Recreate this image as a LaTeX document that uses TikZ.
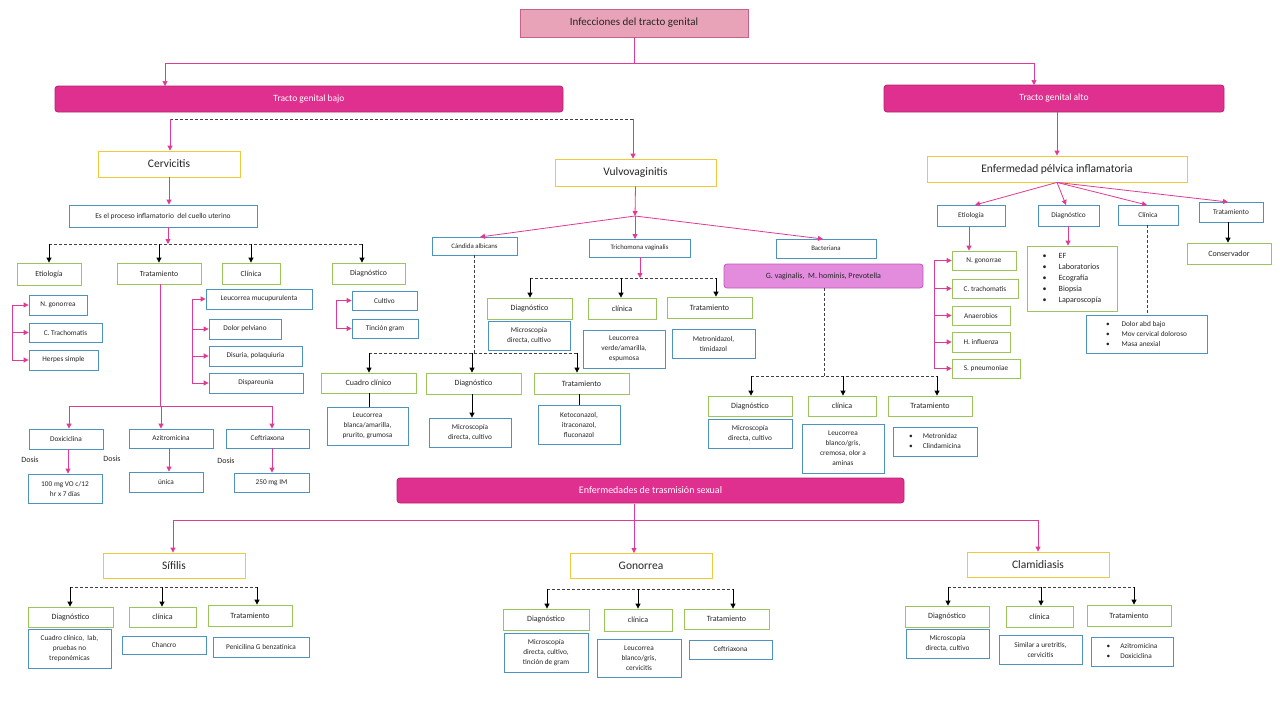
\documentclass[tikz,border=0pt]{standalone}
\usepackage{fontspec}
\setmainfont{Carlito}
\usetikzlibrary{arrows.meta,calc}
\definecolor{mag}{HTML}{E0308F}
\definecolor{magd}{HTML}{B5246F}
\definecolor{pnk}{HTML}{E03A96}
\definecolor{grn}{HTML}{9BC55A}
\definecolor{blu}{HTML}{4C94BE}
\definecolor{ylw}{HTML}{F0C83C}
\definecolor{topf}{HTML}{E9A3B9}
\definecolor{topd}{HTML}{C86088}
\definecolor{gvf}{HTML}{E38BDD}
\definecolor{gvd}{HTML}{C058B8}
\newcommand\mybox[7]{\node[#2, minimum width={(#5)-(#3)}, minimum height={(#6)-(#4)}] (#1) at ({((#3)+(#5))/2},{((#4)+(#6))/2}) {#7};}
\newcommand\bl{\textbullet}
\begin{document}
\begin{tikzpicture}[x=1pt,y=-1pt,
 boxbase/.style={draw, line width=0.8pt, inner sep=1pt, align=center, text=black!85},
 ybox/.style={boxbase, draw=ylw, font=\fontsize{11.5}{13}\selectfont},
 gbox/.style={boxbase, draw=grn, font=\fontsize{8}{9.5}\selectfont},
 gsm/.style={boxbase, draw=grn, font=\fontsize{7.3}{10}\selectfont},
 bbox/.style={boxbase, draw=blu, font=\fontsize{7.3}{10}\selectfont},
 mbox/.style={boxbase, draw=magd, fill=mag, rounded corners=3pt, text=white, font=\fontsize{9.5}{11}\selectfont},
 pka/.style={draw=pnk, line width=0.8pt, -{Triangle[length=5pt,width=5pt]}},
 pkl/.style={draw=pnk, line width=0.8pt},
 bka/.style={draw=black, line width=0.8pt, -{Triangle[length=5pt,width=5pt]}},
 bkl/.style={draw=black, line width=0.8pt},
 dsh/.style={draw=black!75, line width=0.8pt, dash pattern=on 3pt off 2pt},
 lbl/.style={font=\fontsize{8}{9}\selectfont, text=black!85, inner sep=0pt}
]
\useasboundingbox[fill=white] (0,0) rectangle (1280,720);

% ---------- top ----------
\mybox{top}{boxbase, draw=topd, fill=topf, font=\fontsize{11}{13}\selectfont}{520}{9}{748}{37}{Infecciones del tracto genital}
\mybox{tgb}{mbox}{55}{86}{563}{112}{Tracto genital bajo}
\mybox{tga}{mbox}{884}{85}{1224}{112}{Tracto genital alto}
\coordinate (j0) at (634,63);
\coordinate (tgbin) at (165,86);
\coordinate (tgain) at (1034,85);
\draw[pkl, line width=0.6pt] (top.south -| j0) -- (j0);
\draw[pka, line width=0.6pt] (j0) -| (tgbin);
\draw[pka, line width=0.6pt] (j0) -| (tgain);

% ---------- Cervicitis ----------
\mybox{cerv}{ybox}{98}{151}{240}{177}{Cervicitis}
\mybox{vulvo}{ybox}{555}{159}{716}{186}{Vulvovaginitis}
\coordinate (d0a) at (170,119);
\coordinate (d0b) at (633,119);
\draw[dsh] (d0a) -- (d0b);
\draw[pka] (d0a) -- (d0a |- cerv.north);
\draw[pka] (d0b) -- (d0b |- vulvo.north);

\mybox{def}{bbox, font=\fontsize{7.5}{9}\selectfont}{69}{205}{257}{227}{Es el proceso inflamatorio\ \ del cuello uterino}
\draw[pka] (cerv.south) -- (cerv.south |- def.north);
\coordinate (d1) at (168,244);
\coordinate (d1L) at (49,244);
\coordinate (d1R) at (362,244);
\draw[pka] (d1 |- def.south) -- (d1);
\draw[dsh] (d1L) -- (d1R);
\mybox{et1}{gbox, font=\fontsize{7.8}{9}\selectfont}{17}{263}{81}{285}{Etiología}
\mybox{tr1}{gbox, font=\fontsize{7.8}{9}\selectfont}{117}{263}{201}{284}{Tratamiento}
\mybox{cl1}{gbox, font=\fontsize{7.8}{9}\selectfont}{222}{263}{280}{284}{Clínica}
\mybox{dg1}{gbox, font=\fontsize{7.8}{9}\selectfont}{332}{263}{405}{284}{Diagnóstico}
\draw[bka] (d1L) -- (d1L |- et1.north);
\draw[bka] (tr1.north |- d1) -- (tr1.north);
\draw[bka] (cl1.north |- d1) -- (cl1.north);
\draw[bka] (d1R) -- (d1R |- dg1.north);

\mybox{eA}{bbox}{29}{295}{87}{315}{N. gonorrea}
\mybox{eB}{bbox}{29}{323}{102}{342}{C. Trachomatis}
\mybox{eC}{bbox}{29}{350}{98}{370}{Herpes simple}
\coordinate (bE) at (12,0);
\draw[pkl] (bE |- eA.west) -- (bE |- eC.west);
\foreach \n in {eA,eB,eC} \draw[pka] (bE |- \n.west) -- (\n.west);

\mybox{cA}{bbox}{206}{289}{312}{309}{Leucorrea mucupurulenta}
\mybox{cB}{bbox}{209}{319}{281}{339}{Dolor pelviano}
\mybox{cC}{bbox}{209}{346}{302}{366}{Disuria, polaquiuria}
\mybox{cD}{bbox}{209}{373}{303}{393}{Dispareunia}
\coordinate (bC) at (192,0);
\draw[pkl] (bC |- cA.west) -- (bC |- cD.west);
\foreach \n in {cA,cB,cC,cD} \draw[pka] (bC |- \n.west) -- (\n.west);

\mybox{dA}{bbox}{352}{291}{417}{310}{Cultivo}
\mybox{dB}{bbox}{352}{319}{418}{338}{Tinción gram}
\coordinate (bD) at (336,0);
\draw[pkl] (bD |- dA.west) -- (bD |- dB.west);
\foreach \n in {dA,dB} \draw[pka] (bD |- \n.west) -- (\n.west);

% treatment branch
\coordinate (t1) at (160,406);
\coordinate (t1L) at (69,406);
\coordinate (t1M) at (161,406);
\coordinate (t1R) at (272,406);
\draw[pkl] (t1 |- tr1.south) -- (t1);
\draw[pkl] (t1L) -- (t1R);
\mybox{tA}{bbox}{29}{429}{103}{449}{Doxiciclina}
\mybox{tB}{bbox}{129}{429}{213}{448}{Azitromicina}
\mybox{tC}{bbox}{226}{429}{309}{448}{Ceftriaxona}
\draw[pka] (t1L) -- (t1L |- tA.north);
\draw[pka] (t1M) -- (t1M |- tB.north);
\draw[pka] (t1R) -- (t1R |- tC.north);
\mybox{tA2}{bbox}{28}{474}{102}{503}{100 mg VO c/12\\hr x 7 días}
\mybox{tB2}{bbox}{129}{472}{203}{492}{única}
\mybox{tC2}{bbox}{234}{473}{309}{492}{250 mg IM}
\coordinate (xa) at (68,0);
\coordinate (xb) at (169,0);
\coordinate (xc) at (272,0);
\draw[pka] (xa |- tA.south) -- (xa |- tA2.north);
\draw[pka] (xb |- tB.south) -- (xb |- tB2.north);
\draw[pka] (xc |- tC.south) -- (xc |- tC2.north);
\node[lbl] (ds1) at (30,460) {Dosis};
\node[lbl] (ds2) at (112,459) {Dosis};
\node[lbl] (ds3) at (226,461) {Dosis};

% ---------- Vulvovaginitis ----------
\coordinate (vf) at (635,216);
\draw[pka] (vulvo.south) -- (vf);
\mybox{cand}{bbox, font=\fontsize{6.8}{8}\selectfont}{432}{237}{517}{255}{Cándida albicans}
\mybox{trich}{bbox, font=\fontsize{6.8}{8}\selectfont}{589}{239}{690}{257}{Trichomona vaginalis}
\mybox{bact}{bbox, font=\fontsize{6.8}{8}\selectfont}{776}{239}{876}{258}{Bacteriana}
\coordinate (candin) at (480,237);
\coordinate (trichin) at (635,239);
\coordinate (bactin) at (823,239);
\draw[pka] (vf) -- (candin);
\draw[pka] (vf) -- (trichin);
\draw[pka] (vf) -- (bactin);

% Candida
\coordinate (cd0) at (474,353);
\coordinate (cdL) at (369,353);
\coordinate (cdR) at (577,353);
\coordinate (cdM) at (472,353);
\draw[dsh] (cd0 |- cand.south) -- (cd0);
\draw[dsh] (cdL) -- (cdR);
\mybox{cc}{gbox}{321}{373}{416}{393}{Cuadro clínico}
\mybox{vd}{gbox}{426}{373}{521}{394}{Diagnóstico}
\mybox{vt}{gbox}{534}{373}{629}{394}{Tratamiento}
\draw[bka] (cdL) -- (cdL |- cc.north);
\draw[bka] (cdM) -- (cdM |- vd.north);
\draw[bka] (cdR) -- (cdR |- vt.north);
\mybox{cc2}{bbox}{327}{407}{408}{445}{Leucorrea\\blanca/amarilla,\\prurito, grumosa}
\mybox{vd2}{bbox}{429}{418}{511}{447}{Microscopía\\directa, cultivo}
\mybox{vt2}{bbox}{538}{405}{620}{444}{Ketoconazol,\\itraconazol,\\fluconazol}
\draw[bkl] (cdL |- cc.south) -- (cdL |- cc2.north);
\draw[bka] (cdM |- vd.south) -- (cdM |- vd2.north);
\draw[bkl] (vt2.north |- vt.south) -- (vt2.north);

% Trichomona
\coordinate (tr0) at (640,278);
\coordinate (tr0top) at (640,257);
\coordinate (trL) at (530,278);
\coordinate (trM) at (621,278);
\coordinate (trR) at (716,278);
\draw[pka] (tr0top) -- (tr0);
\draw[dsh] (trL) -- (trR);
\mybox{td}{gbox}{487}{298}{572}{319}{Diagnóstico}
\mybox{tcl}{gbox}{588}{298}{656}{319}{clínica}
\mybox{tt}{gbox}{667}{297}{752}{318}{Tratamiento}
\draw[bka] (trL) -- (trL |- td.north);
\draw[bka] (trM) -- (trM |- tcl.north);
\draw[bka] (trR) -- (trR |- tt.north);
\mybox{td2}{bbox}{488}{321}{570}{350}{Microscopía\\directa, cultivo}
\mybox{tcl2}{bbox}{583}{330}{665}{368}{Leucorrea\\verde/amarilla,\\espumosa}
\mybox{tt2}{bbox}{672}{329}{755}{358}{Metronidazol,\\timidazol}

% Bacteriana
\mybox{gv}{boxbase, draw=gvd, fill=gvf, rounded corners=3pt, font=\fontsize{8}{9.5}\selectfont}{724}{264}{923}{288}{G. vaginalis,\ \ M. hominis, Prevotella}
\coordinate (bx0) at (824,376);
\coordinate (bxL) at (751,376);
\coordinate (bxM) at (843,376);
\coordinate (bxR) at (937,376);
\draw[dsh] (bx0 |- gv.south) -- (bx0);
\draw[dsh] (bxL) -- (bxR);
\mybox{bd}{gbox}{708}{396}{792}{416}{Diagnóstico}
\mybox{bc}{gbox}{808}{396}{876}{416}{clínica}
\mybox{bt}{gbox}{888}{396}{972}{416}{Tratamiento}
\draw[bka] (bxL) -- (bxL |- bd.north);
\draw[bka] (bxM) -- (bxM |- bc.north);
\draw[bka] (bxR) -- (bxR |- bt.north);
\mybox{bd2}{bbox}{708}{419}{792}{448}{Microscopía\\directa, cultivo}
\mybox{bc2}{bbox}{802}{424}{884}{473}{Leucorrea\\blanco/gris,\\cremosa, olor a\\aminas}
\mybox{bt2}{bbox}{893}{427}{977}{456}{\begin{tabular}{@{}l@{\hspace{10pt}}l@{}}\bl & Metronidaz\\ \bl & Clindamicina\end{tabular}}

% ---------- EPI ----------
\mybox{epi}{ybox}{927}{156}{1187}{182}{Enfermedad pélvica inflamatoria}
\draw[pka] (epi.north |- tga.south) -- (epi.north);
\mybox{ee}{bbox}{937}{205}{1005}{226}{Etiología}
\mybox{ed}{bbox}{1038}{205}{1099}{226}{Diagnóstico}
\mybox{ec}{bbox}{1118}{205}{1178}{225}{Clínica}
\mybox{et}{bbox}{1199}{202}{1263}{222}{Tratamiento}
\coordinate (eeIn) at (975,205);
\coordinate (edIn) at (1066,205);
\coordinate (ecIn) at (1147,205);
\coordinate (etIn) at (1228,202);
\draw[pka] (epi.south) -- (eeIn);
\draw[pka] (epi.south) -- (edIn);
\draw[pka] (epi.south) -- (ecIn);
\draw[pka] (epi.south) -- (etIn);
\mybox{cons}{gbox}{1187}{243}{1271}{264}{Conservador}
\draw[bka] (et.south -| etIn) -- (cons.north -| etIn);
\mybox{edl}{gbox, font=\fontsize{8}{11}\selectfont}{1027}{246}{1117}{311}{\begin{tabular}{@{}l@{\hspace{12pt}}l@{}}\bl & EF\\ \bl & Laboratorios\\ \bl & Ecografía\\ \bl & Biopsia\\ \bl & Laparoscopía\end{tabular}}
\coordinate (xd) at (1068,0);
\draw[pka] (xd |- ed.south) -- (xd |- edl.north);
\mybox{ecl}{bbox}{1086}{315}{1207}{353}{\begin{tabular}{@{}l@{\hspace{12pt}}l@{}}\bl & Dolor abd bajo\\ \bl & Mov cervical doloroso\\ \bl & Masa anexial\end{tabular}}
\draw[dsh] (ecIn |- ec.south) -- (ecIn |- ecl.north);
\mybox{eA2}{gsm}{952}{251}{1016}{270}{N. gonorrae}
\mybox{eB2}{gsm}{952}{279}{1018}{298}{C. trachomatis}
\mybox{eC2}{gsm}{952}{306}{1010}{325}{Anaerobios}
\mybox{eD2}{gsm}{952}{332}{1010}{352}{H. influenza}
\mybox{eE2}{gsm}{952}{359}{1020}{378}{S. pneumoniae}
\coordinate (xe) at (969,0);
\draw[pka] (xe |- ee.south) -- (xe |- eA2.north);
\coordinate (bF) at (934,0);
\draw[pkl] (bF |- eA2.west) -- (bF |- eE2.west);
\foreach \n in {eA2,eB2,eC2,eD2,eE2} \draw[pka] (bF |- \n.west) -- (\n.west);

% ---------- ETS ----------
\mybox{ets}{mbox, font=\fontsize{10}{12}\selectfont}{397}{478}{904}{503}{Enfermedades de trasmisión sexual}
\mybox{sif}{ybox}{103}{553}{245}{578}{Sífilis}
\mybox{gon}{ybox}{570}{553}{712}{578}{Gonorrea}
\mybox{clam}{ybox}{967}{552}{1109}{577}{Clamidiasis}
\coordinate (e0) at (634,504);
\coordinate (e0b) at (634,553);
\coordinate (eL) at (173,520);
\coordinate (eR) at (1038,520);
\draw[pkl] (eL) -- (eR);
\draw[pka] (e0) -- (e0b);
\draw[pka] (eL) -- (eL |- sif.north);
\draw[pka] (eR) -- (eR |- clam.north);

% Sifilis
\coordinate (sL) at (70,587);
\coordinate (sM) at (162,587);
\coordinate (sR) at (257,587);
\draw[dsh] (sL) -- (sR);
\mybox{sd}{gbox}{28}{607}{113}{627}{Diagnóstico}
\mybox{scl}{gbox}{129}{607}{196}{627}{clínica}
\mybox{st}{gbox}{208}{605}{292}{626}{Tratamiento}
\draw[bka] (sL) -- (sL |- sd.north);
\draw[bka] (sM) -- (sM |- scl.north);
\draw[bka] (sR) -- (sR |- st.north);
\mybox{sd2}{bbox}{28}{629}{111}{668}{Cuadro clínico,\ \ lab,\\pruebas no\\treponémicas}
\mybox{scl2}{bbox}{122}{636}{206}{654}{Chancro}
\mybox{st2}{bbox}{213}{637}{309}{657}{Penicilina G benzatínica}

% Gonorrea
\coordinate (gL) at (547,589);
\coordinate (gM) at (638,589);
\coordinate (gR) at (733,589);
\draw[dsh] (gL) -- (gR);
\mybox{gd}{gbox}{503}{609}{589}{630}{Diagnóstico}
\mybox{gcl}{gbox}{604}{609}{672}{631}{clínica}
\mybox{gt}{gbox}{684}{609}{769}{629}{Tratamiento}
\draw[bka] (gL) -- (gL |- gd.north);
\draw[bka] (gM) -- (gM |- gcl.north);
\draw[bka] (gR) -- (gR |- gt.north);
\mybox{gd2}{bbox}{504}{633}{588}{672}{Microscopía\\directa, cultivo,\\tinción de gram}
\mybox{gcl2}{bbox}{597}{639}{681}{677}{Leucorrea\\blanco/gris,\\cervicitis}
\mybox{gt2}{bbox}{689}{640}{772}{659}{Ceftriaxona}

% Clamidiasis
\coordinate (kL) at (948,587);
\coordinate (kM) at (1041,587);
\coordinate (kR) at (1134,587);
\draw[dsh] (kL) -- (kR);
\mybox{cd}{gbox}{905}{606}{989}{627}{Diagnóstico}
\mybox{ccl}{gbox}{1006}{606}{1073}{627}{clínica}
\mybox{ct}{gbox}{1087}{605}{1171}{626}{Tratamiento}
\draw[bka] (kL) -- (kL |- cd.north);
\draw[bka] (kM) -- (kM |- ccl.north);
\draw[bka] (kR) -- (kR |- ct.north);
\mybox{cd2}{bbox}{906}{629}{989}{658}{Microscopía\\directa, cultivo}
\mybox{ccl2}{bbox}{999}{635}{1082}{664}{Similar a uretritis,\\cervicitis}
\mybox{ct2}{bbox}{1091}{637}{1173}{666}{\begin{tabular}{@{}l@{\hspace{10pt}}l@{}}\bl & Azitromicina\\ \bl & Doxiciclina\end{tabular}}
\end{tikzpicture}
\end{document}
